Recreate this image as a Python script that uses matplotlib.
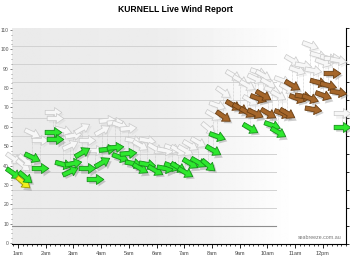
import numpy as np
import matplotlib
matplotlib.use('Agg')
import matplotlib.pyplot as plt
from matplotlib.markers import MarkerStyle
from matplotlib.path import Path
from matplotlib.ticker import MultipleLocator, NullFormatter
from matplotlib.transforms import Affine2D, offset_copy

plt.rcParams['font.family'] = ['Liberation Sans', 'DejaVu Sans']

# readings: time of day (hours), average wind, gust, direction wind is coming from (deg)
hours = [0.82, 1.18, 1.25, 1.51, 1.79, 2.26, 2.34, 2.62, 2.88, 2.99, 3.31, 3.49, 3.78, 4.03,
         4.21, 4.50, 4.68, 4.97, 5.15, 5.40, 5.66, 5.95, 6.31, 6.56, 6.78, 7.03, 7.21, 7.50,
         7.86, 8.04, 8.18, 8.40, 8.76, 9.01, 9.27, 9.38, 9.56, 9.66, 9.84, 10.03, 10.17, 10.39,
         10.53, 10.71, 10.89, 11.07, 11.29, 11.54, 11.65, 11.83, 12.01, 12.19, 12.34, 12.55, 12.70]
speed = [36.2, 31.5, 34.1, 44.4, 38.7, 57.3, 53.7, 40.8, 37.2, 41.3, 47.0, 38.7, 33.1, 41.8,
         48.6, 49.6, 44.4, 46.5, 41.3, 38.7, 40.8, 37.7, 38.7, 39.8, 39.3, 36.7, 41.3, 41.8,
         40.3, 48.0, 55.3, 65.6, 71.3, 69.7, 67.7, 59.4, 67.1, 74.9, 76.4, 67.1, 60.9, 57.3,
         67.1, 67.1, 81.6, 74.9, 75.9, 74.9, 69.2, 83.2, 76.4, 81.6, 87.8, 78.0, 59.9]
gust = [43.9, 40.3, 42.9, 56.8, 53.2, 67.7, 64.6, 58.4, 50.6, 55.8, 59.4, 53.2, 48.0, 58.4,
        63.5, 62.5, 60.9, 59.4, 53.2, 50.6, 53.2, 49.1, 48.0, 49.1, 48.0, 48.0, 50.6, 52.2,
        59.4, 66.1, 71.3, 78.0, 86.8, 84.2, 81.6, 73.9, 85.2, 88.3, 86.8, 82.6, 79.0, 76.4,
        84.2, 80.1, 94.5, 89.4, 91.9, 102.3, 89.4, 97.1, 93.5, 95.6, 95.6, 94.5, 67.1]
direction = [305, 310, 310, 295, 270, 270, 270, 285, 245, 260, 240, 270, 270, 240,
             265, 265, 290, 265, 280, 300, 280, 300, 280, 290, 300, 300, 300, 300,
             310, 300, 290, 305, 300, 300, 300, 300, 295, 290, 300, 300, 290, 300,
             290, 300, 300, 290, 280, 290, 280, 285, 290, 285, 270, 280, 270]

hour_ticks = list(range(1, 13))
hour_labels = ['1am', '2am', '3am', '4am', '5am', '6am', '7am', '8am', '9am', '10am', '11am', '12pm']
speed_ticks = list(range(0, 111, 10))


def speed_colour(v):
    if v < 32:
        return '#f2ee1e', '#a09a00'
    if v < 63:
        return '#2ee82e', '#16901a'
    return '#a5662a', '#6a3f14'


arrow_verts = [(-1, -0.26), (0.12, -0.26), (0.12, -0.6), (1, 0), (0.12, 0.6),
               (0.12, 0.26), (-1, 0.26), (-1, -0.26)]
arrow_codes = [Path.MOVETO] + [Path.LINETO] * 6 + [Path.CLOSEPOLY]
arrow_path = Path(arrow_verts, arrow_codes)


def arrow_marker(dir_from):
    return MarkerStyle(arrow_path, transform=Affine2D().rotate_deg(270 - dir_from))


fig = plt.figure(figsize=(3.5, 2.62), dpi=100)
ax = fig.add_axes([12 / 350, 18 / 262, 334 / 350, 216 / 262])
ax2 = ax.twinx()
ax.set_zorder(ax2.get_zorder() + 1)
ax.patch.set_visible(False)

# background fading from grey to white
xs = np.linspace(0, 1, 300)
grad = np.interp(xs, [0, 0.45, 0.85, 1], [0.92, 0.93, 1.0, 1.0])
ax2.imshow(np.tile(grad, (10, 1)), extent=(0, 1, 0, 1), transform=ax2.transAxes,
           aspect='auto', cmap='gray', vmin=0, vmax=1, zorder=0)

for y in range(2, 12):
    ax2.axhline(y, xmin=0, xmax=0.79, color='#d2d2d2', lw=0.7, zorder=1)
ax2.axhline(1, xmin=0, xmax=0.79, color='#8e8e8e', lw=0.8, zorder=1)

shadow = offset_copy(ax.transData, fig=fig, x=1.2, y=-1.8, units='points')
ms = 12
for t, v, g, d in zip(hours, speed, gust, direction):
    m = arrow_marker(d)
    ax.plot([t, t], [v, g], color='#c4c4c4', lw=0.5, ls=(0, (1, 1)), zorder=1)
    ax.plot(t, g, marker=m, ms=ms, mfc='#c4c4c4', mec='none', alpha=0.22,
            transform=shadow, zorder=2, clip_on=False)
    ax.plot(t, g, marker=m, ms=ms, mfc='#f7f7f7', mec='#c8c8c8', mew=0.5, zorder=3, clip_on=False)
for t, v, d in zip(hours, speed, direction):
    m = arrow_marker(d)
    fc, ec = speed_colour(v)
    ax.plot(t, v, marker=m, ms=ms, mfc='#777777', mec='none', alpha=0.35,
            transform=shadow, zorder=4, clip_on=False)
    ax.plot(t, v, marker=m, ms=ms, mfc=fc, mec=ec, mew=0.6, zorder=5, clip_on=False)

ax.set_xlim(0.78, 12.84)
ax.set_ylim(-0.5, 111)
ax2.set_ylim(0, 12)

ax.set_xticks(hour_ticks)
ax.set_xticklabels(hour_labels)
ax.xaxis.set_minor_locator(MultipleLocator(1 / 6))
ax.tick_params(axis='x', which='major', labelsize=4, labelcolor='#444444', length=3, width=0.6, pad=2)
ax.tick_params(axis='x', which='minor', length=1.5, width=0.5)

ax.set_yticks(speed_ticks)
ax.yaxis.set_minor_locator(MultipleLocator(2.5))
ax.tick_params(axis='y', which='major', labelsize=3.6, labelcolor='#555555', length=1.2,
               width=0.5, color='#555555', pad=1)
ax.tick_params(axis='y', which='minor', length=0.8, width=0.5, color='#777777')

ax2.set_yticks(range(13))
ax2.yaxis.set_major_formatter(NullFormatter())
ax2.tick_params(axis='y', length=2, width=0.6, direction='out')

for s in ['top', 'left', 'right']:
    ax.spines[s].set_visible(False)
for s in ['top', 'left', 'bottom']:
    ax2.spines[s].set_visible(False)
ax.spines['bottom'].set_linewidth(0.8)
ax2.spines['right'].set_linewidth(0.8)

ax.text(0.988, 0.03, 'seabreeze.com.au', transform=ax.transAxes, ha='right', va='center',
        fontsize=3.8, color='#777777')

fig.text(0.5, 0.962, 'KURNELL Live Wind Report', ha='center', va='center',
         fontsize=6.2, fontweight='bold')

fig.savefig('out.png', dpi=100)
